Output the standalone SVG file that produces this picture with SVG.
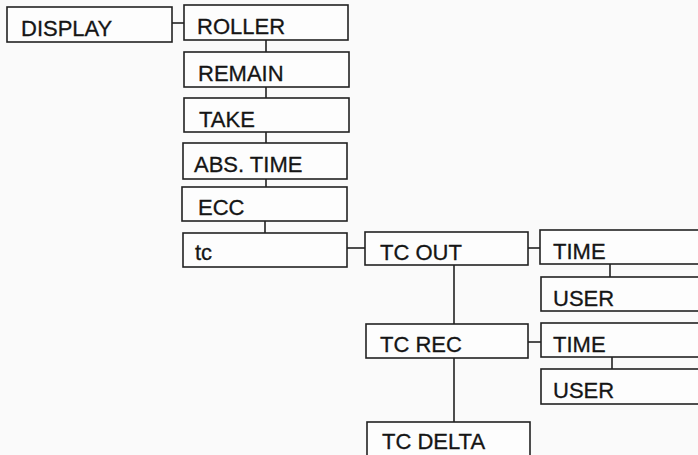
<svg xmlns="http://www.w3.org/2000/svg" width="698" height="455" viewBox="0 0 698 455">
<style>
.box{fill:#fdfdfd;stroke:#222;stroke-width:1.6}
.lbl{font-family:"Liberation Sans",Arial,sans-serif;font-size:22px;fill:#151515;stroke:#151515;stroke-width:0.3}
.con{stroke:#222;stroke-width:1.6;fill:none}
</style>
<rect width="698" height="455" fill="#fafafa"/>
<g id="connectors">
<path class="con" d="M172,23H184"/>
<path class="con" d="M266,40V52M266,87V98M266,132V143M266,179V187M265,221V233"/>
<path class="con" d="M347,248H365"/>
<path class="con" d="M528,248H540"/>
<path class="con" d="M610,264V277"/>
<path class="con" d="M454,265V324"/>
<path class="con" d="M528,342H541"/>
<path class="con" d="M612,357V369"/>
<path class="con" d="M454,358V422"/>
</g>
<g id="display"><rect class="box" x="7" y="7" width="165" height="35"/><text class="lbl" x="21" y="36">DISPLAY</text></g>
<g id="roller"><rect class="box" x="184" y="5" width="164" height="35"/><text class="lbl" x="197" y="34">ROLLER</text></g>
<g id="remain"><rect class="box" x="184" y="52" width="165" height="35"/><text class="lbl" x="198" y="81">REMAIN</text></g>
<g id="take"><rect class="box" x="184" y="98" width="165" height="34"/><text class="lbl" x="199" y="127">TAKE</text></g>
<g id="abstime"><rect class="box" x="183" y="143" width="164" height="36"/><text class="lbl" x="194" y="172">ABS. TIME</text></g>
<g id="ecc"><rect class="box" x="182" y="187" width="165" height="34"/><text class="lbl" x="198" y="215">ECC</text></g>
<g id="tc"><rect class="box" x="183" y="233" width="164" height="34"/><text class="lbl" x="195" y="260">tc</text></g>
<g id="tcout"><rect class="box" x="365" y="232" width="163" height="33"/><text class="lbl" x="380" y="260">TC OUT</text></g>
<g id="time1"><rect class="box" x="540" y="230" width="170" height="34"/><text class="lbl" x="553" y="259">TIME</text></g>
<g id="user1"><rect class="box" x="541" y="277" width="170" height="34"/><text class="lbl" x="553" y="306">USER</text></g>
<g id="tcrec"><rect class="box" x="366" y="324" width="162" height="34"/><text class="lbl" x="380" y="352">TC REC</text></g>
<g id="time2"><rect class="box" x="541" y="323" width="170" height="34"/><text class="lbl" x="553" y="352">TIME</text></g>
<g id="user2"><rect class="box" x="541" y="369" width="170" height="35"/><text class="lbl" x="553" y="398">USER</text></g>
<g id="tcdelta"><rect class="box" x="367" y="422" width="163" height="50"/><text class="lbl" x="382" y="449">TC DELTA</text></g>
</svg>
